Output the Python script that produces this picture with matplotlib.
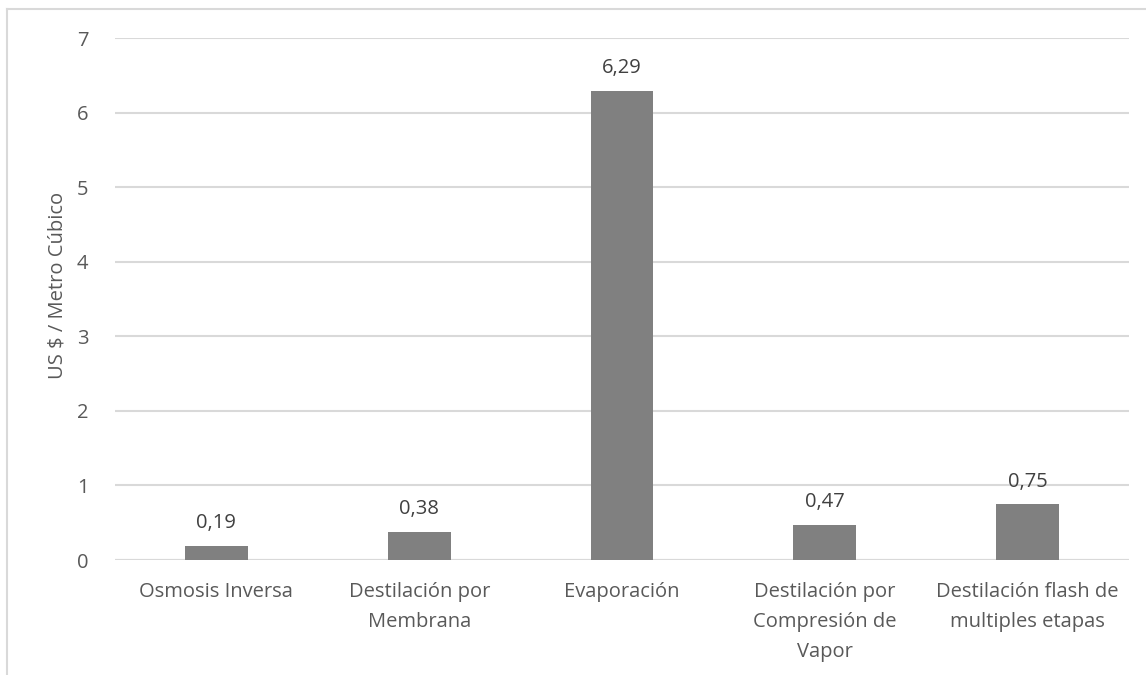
import matplotlib
matplotlib.use("Agg")
import matplotlib.pyplot as plt
from matplotlib.lines import Line2D

categories = [
    "Osmosis Inversa",
    "Destilación por\nMembrana",
    "Evaporación",
    "Destilación por\nCompresión de\nVapor",
    "Destilación flash de\nmultiples etapas",
]
costs = [0.19, 0.38, 6.29, 0.47, 0.75]
value_labels = ["0,19", "0,38", "6,29", "0,47", "0,75"]
y_ticks = [0, 1, 2, 3, 4, 5, 6, 7]

plt.rcParams["font.family"] = ["Open Sans", "DejaVu Sans"]
text_color = "#595959"
grid_color = "#d9d9d9"
bar_color = "#808080"

W, H = 1146, 675
fig = plt.figure(figsize=(W / 100, H / 100), dpi=100)
ax = fig.add_axes([115 / W, 1 - 560 / H, (1129 - 115) / W, (560 - 38) / H])

x = list(range(len(categories)))
bars = ax.bar(x, costs, width=0.31, color=bar_color, zorder=3)

for rect, lab in zip(bars, value_labels):
    ax.annotate(lab, (rect.get_x() + rect.get_width() / 2, rect.get_height()),
                xytext=(0, 9), textcoords="offset points", ha="center", va="bottom",
                fontsize=14.5, color="#404040")

ax.set_xlim(-0.5, len(categories) - 0.5)
ax.set_ylim(0, 7)
ax.set_yticks(y_ticks)
ax.set_yticklabels([str(t) for t in y_ticks])
ax.yaxis.grid(True, color=grid_color, linewidth=1.5, zorder=0)
ax.set_axisbelow(True)
for s in ax.spines.values():
    s.set_visible(False)
ax.tick_params(axis="both", length=0, colors=text_color, labelsize=14.5)
ax.tick_params(axis="y", pad=19)
ax.tick_params(axis="x", pad=16)
ax.set_xticks(x)
ax.set_xticklabels(categories, linespacing=1.65)
ax.axhline(0, color=grid_color, linewidth=1.5, zorder=1)

ax.set_ylabel("US $ / Metro Cúbico", fontsize=14.5, color=text_color)
ax.yaxis.set_label_coords((68 - 115) / 1014, (560 - 285) / 522)

# chart-area frame
fig.add_artist(Line2D([7 / W, 7 / W], [0, 1 - 9 / H], transform=fig.transFigure,
                      color=grid_color, linewidth=1.5))
fig.add_artist(Line2D([7 / W, 1], [1 - 9 / H, 1 - 9 / H], transform=fig.transFigure,
                      color=grid_color, linewidth=1.5))

fig.savefig("out.png", dpi=100, facecolor="white")
